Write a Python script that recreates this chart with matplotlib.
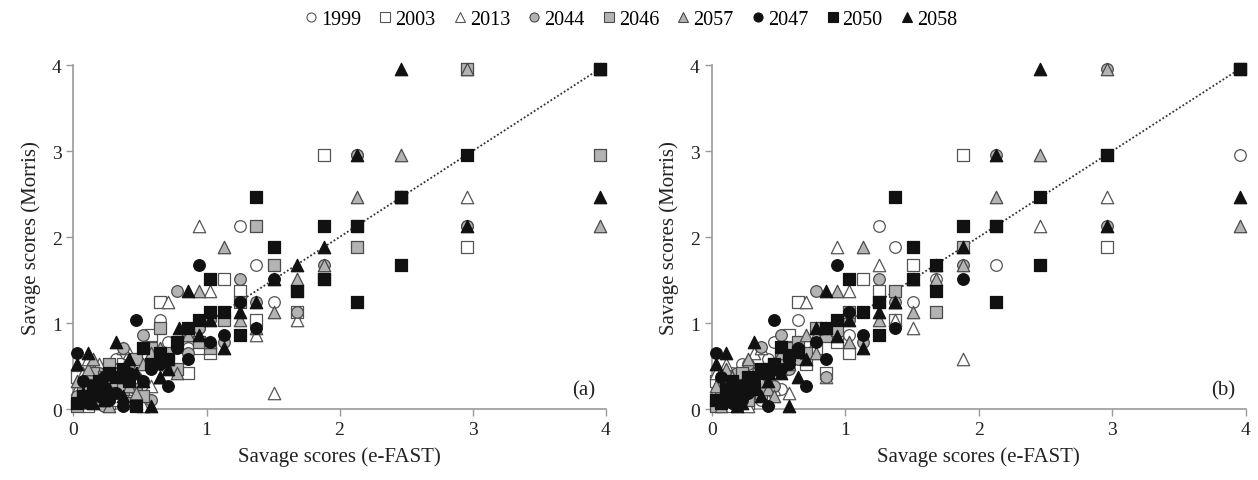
import matplotlib
matplotlib.use('Agg')
import matplotlib.pyplot as plt
from matplotlib.lines import Line2D

plt.rcParams['font.family'] = ['Liberation Serif', 'DejaVu Serif']

# series names (legend order = drawing order)
series = ['1999', '2003', '2013', '2044', '2046', '2057', '2047', '2050', '2058']

# ---- panel (a) ----
a_1999_x = [3.96, 1.25, 1.37, 1.51, 0.65, 0.71, 0.32, 1.03, 0.78, 0.03, 0.07, 0.11, 0.15, 0.19, 0.23, 0.27, 0.37, 0.42, 0.47, 0.52, 0.58, 0.94, 0.86, 1.13, 2.13, 1.88, 2.46, 2.96, 1.68]
a_1999_y = [3.96, 2.13, 1.68, 1.25, 1.03, 0.78, 0.58, 0.65, 0.42, 0.11, 0.23, 0.15, 0.32, 0.07, 0.47, 0.27, 0.19, 0.52, 0.37, 0.03, 0.86, 0.94, 0.71, 1.13, 2.96, 1.51, 2.46, 2.13, 1.37]
a_2003_x = [1.88, 2.96, 1.13, 1.25, 0.65, 1.37, 0.58, 1.03, 0.03, 0.27, 0.07, 0.11, 0.19, 0.23, 0.32, 0.42, 0.47, 0.52, 0.71, 0.78, 0.86, 0.94, 3.96, 2.46, 2.13, 1.68, 0.15, 0.37]
a_2003_y = [2.96, 1.88, 1.51, 1.37, 1.25, 1.03, 0.86, 0.65, 0.37, 0.07, 0.27, 0.03, 0.47, 0.19, 0.11, 0.23, 0.32, 0.15, 0.52, 0.58, 0.42, 0.71, 3.96, 2.46, 2.13, 1.13, 0.23, 0.52]
a_2013_x = [0.94, 2.96, 1.03, 0.71, 1.68, 1.37, 1.51, 0.42, 0.19, 0.52, 0.03, 0.07, 0.11, 0.15, 0.23, 0.27, 0.32, 0.37, 0.47, 0.58, 0.65, 0.78, 0.86, 3.96, 2.46]
a_2013_y = [2.13, 2.46, 1.37, 1.25, 1.03, 0.86, 0.19, 0.65, 0.52, 0.03, 0.23, 0.42, 0.58, 0.11, 0.32, 0.15, 0.47, 0.71, 0.07, 0.27, 0.37, 0.78, 0.94, 3.96, 2.46]
a_2044_x = [2.13, 2.96, 1.88, 1.25, 0.78, 1.37, 1.68, 0.52, 0.37, 1.13, 0.03, 0.07, 0.11, 0.15, 0.19, 0.23, 0.27, 0.32, 0.42, 0.47, 0.58, 0.65, 0.71, 0.86, 0.94, 1.03, 3.96]
a_2044_y = [2.96, 2.13, 1.68, 1.51, 1.37, 1.25, 1.13, 0.86, 0.71, 0.78, 0.15, 0.07, 0.32, 0.19, 0.42, 0.03, 0.37, 0.27, 0.52, 0.23, 0.11, 0.58, 0.47, 0.65, 0.94, 1.03, 3.96]
a_2046_x = [2.96, 3.96, 1.37, 2.13, 1.51, 1.13, 0.65, 0.58, 0.52, 0.47, 0.03, 0.07, 0.11, 0.15, 0.19, 0.23, 0.27, 0.32, 0.37, 0.42, 0.71, 0.78, 0.86, 0.94, 1.03, 1.25, 1.68, 1.88, 2.46]
a_2046_y = [3.96, 2.96, 2.13, 1.88, 1.68, 1.03, 0.94, 0.71, 0.15, 0.58, 0.03, 0.19, 0.27, 0.42, 0.11, 0.37, 0.52, 0.32, 0.23, 0.07, 0.65, 0.47, 0.86, 0.78, 0.71, 1.25, 1.37, 1.51, 2.46]
a_2057_x = [2.96, 2.46, 2.13, 3.96, 1.13, 1.88, 1.68, 0.94, 1.51, 1.03, 0.78, 0.11, 0.03, 0.07, 0.15, 0.19, 0.23, 0.27, 0.32, 0.37, 0.42, 0.47, 0.52, 0.58, 0.65, 0.71, 0.86, 1.25, 1.37]
a_2057_y = [3.96, 2.96, 2.46, 2.13, 1.88, 1.68, 1.51, 1.37, 1.13, 0.78, 0.42, 0.47, 0.32, 0.11, 0.58, 0.23, 0.15, 0.03, 0.42, 0.37, 0.27, 0.19, 0.52, 0.65, 0.71, 0.58, 0.86, 1.03, 0.94]
a_2047_x = [2.46, 2.13, 1.88, 0.94, 1.25, 0.47, 1.37, 1.13, 0.71, 0.03, 0.07, 0.11, 0.15, 0.19, 0.23, 0.27, 0.32, 0.37, 0.42, 0.52, 0.58, 0.65, 0.78, 0.86, 1.03, 1.51, 2.96, 3.96, 1.68]
a_2047_y = [2.46, 2.13, 1.51, 1.68, 1.25, 1.03, 0.94, 0.86, 0.27, 0.65, 0.33, 0.07, 0.23, 0.15, 0.37, 0.11, 0.19, 0.03, 0.42, 0.32, 0.47, 0.52, 0.71, 0.58, 0.78, 1.51, 2.96, 3.96, 1.37]
a_2050_x = [3.96, 2.96, 2.46, 1.37, 1.88, 2.13, 1.51, 2.46, 1.88, 1.03, 1.68, 2.13, 1.13, 0.94, 1.25, 0.86, 0.52, 0.58, 0.65, 0.03, 0.07, 0.11, 0.15, 0.19, 0.23, 0.27, 0.32, 0.37, 0.42, 0.47, 0.71, 0.78, 1.03]
a_2050_y = [3.96, 2.96, 2.46, 2.46, 2.13, 2.13, 1.88, 1.68, 1.51, 1.51, 1.37, 1.25, 1.13, 1.03, 0.86, 0.94, 0.71, 0.52, 0.65, 0.07, 0.15, 0.11, 0.27, 0.32, 0.23, 0.42, 0.37, 0.47, 0.32, 0.03, 0.58, 0.78, 1.13]
a_2058_x = [2.46, 3.96, 2.13, 2.96, 1.88, 1.68, 1.51, 0.86, 1.37, 1.25, 1.03, 1.13, 0.79, 0.32, 0.11, 0.03, 0.58, 0.65, 0.07, 0.15, 0.19, 0.23, 0.27, 0.37, 0.42, 0.47, 0.52, 0.71, 0.94]
a_2058_y = [3.96, 2.46, 2.96, 2.13, 1.88, 1.68, 1.51, 1.37, 1.25, 1.13, 1.03, 0.71, 0.94, 0.78, 0.65, 0.52, 0.03, 0.37, 0.19, 0.07, 0.27, 0.11, 0.23, 0.15, 0.58, 0.42, 0.32, 0.47, 0.86]

# ---- panel (b) ----
b_1999_x = [3.96, 1.25, 1.37, 2.13, 1.51, 0.65, 0.71, 0.47, 0.86, 0.03, 0.07, 0.11, 0.15, 0.19, 0.23, 0.27, 0.32, 0.37, 0.42, 0.52, 0.58, 0.78, 0.94, 1.03, 1.13, 1.68, 2.46]
b_1999_y = [2.96, 2.13, 1.88, 1.68, 1.25, 1.03, 0.78, 0.78, 0.37, 0.15, 0.27, 0.07, 0.42, 0.19, 0.52, 0.32, 0.47, 0.11, 0.58, 0.23, 0.65, 0.71, 0.94, 0.86, 1.13, 1.51, 2.46]
b_2003_x = [1.88, 2.96, 1.51, 1.13, 1.25, 0.65, 1.37, 0.58, 0.94, 1.03, 0.03, 0.07, 0.11, 0.15, 0.19, 0.23, 0.27, 0.32, 0.37, 0.42, 0.47, 0.52, 0.71, 0.78, 0.86, 3.96]
b_2003_y = [2.96, 1.88, 1.68, 1.51, 1.37, 1.25, 1.03, 0.86, 0.78, 0.65, 0.32, 0.11, 0.23, 0.03, 0.37, 0.15, 0.07, 0.27, 0.42, 0.19, 0.47, 0.58, 0.52, 0.71, 0.42, 3.96]
b_2013_x = [2.96, 2.46, 0.94, 1.25, 1.03, 0.71, 1.37, 1.51, 1.88, 0.58, 0.86, 0.03, 0.07, 0.11, 0.15, 0.19, 0.23, 0.27, 0.32, 0.37, 0.42, 0.47, 0.52, 0.65, 0.78]
b_2013_y = [2.46, 2.13, 1.88, 1.68, 1.37, 1.25, 1.03, 0.94, 0.58, 0.19, 0.37, 0.42, 0.19, 0.52, 0.27, 0.07, 0.32, 0.03, 0.65, 0.71, 0.11, 0.23, 0.47, 0.78, 0.86]
b_2044_x = [2.96, 2.13, 2.96, 1.88, 1.25, 0.78, 1.37, 1.68, 0.52, 0.37, 1.13, 0.86, 0.03, 0.07, 0.11, 0.15, 0.19, 0.23, 0.27, 0.32, 0.42, 0.47, 0.58, 0.65, 0.71, 0.94, 1.03]
b_2044_y = [3.96, 2.96, 2.13, 1.68, 1.51, 1.37, 1.25, 1.13, 0.86, 0.72, 0.78, 0.37, 0.07, 0.32, 0.19, 0.11, 0.42, 0.23, 0.52, 0.15, 0.37, 0.27, 0.47, 0.58, 0.65, 0.94, 1.03]
b_2046_x = [3.96, 1.88, 1.37, 0.86, 0.71, 0.94, 1.68, 0.03, 0.07, 0.11, 0.15, 0.19, 0.23, 0.27, 0.32, 0.37, 0.42, 0.47, 0.52, 0.58, 0.65, 0.78, 1.03, 1.25, 2.13, 2.96]
b_2046_y = [3.96, 1.88, 1.37, 0.85, 0.65, 0.92, 1.13, 0.03, 0.15, 0.37, 0.23, 0.27, 0.42, 0.11, 0.32, 0.19, 0.47, 0.52, 0.58, 0.71, 0.78, 0.94, 1.13, 1.25, 2.13, 2.96]
b_2057_x = [2.96, 2.46, 2.13, 3.96, 1.13, 1.88, 1.68, 0.94, 1.51, 1.03, 0.11, 0.03, 0.07, 0.15, 0.19, 0.23, 0.27, 0.32, 0.37, 0.42, 0.47, 0.52, 0.58, 0.65, 0.71, 0.78, 0.86, 1.25, 1.37]
b_2057_y = [3.96, 2.96, 2.46, 2.13, 1.88, 1.68, 1.51, 1.37, 1.13, 0.78, 0.47, 0.27, 0.03, 0.37, 0.11, 0.19, 0.58, 0.42, 0.32, 0.23, 0.15, 0.65, 0.52, 0.71, 0.86, 0.65, 0.94, 1.03, 1.25]
b_2047_x = [2.13, 2.46, 0.94, 1.88, 1.25, 1.03, 0.47, 1.37, 1.13, 0.86, 0.71, 0.03, 0.42, 0.07, 0.11, 0.15, 0.19, 0.23, 0.27, 0.32, 0.37, 0.52, 0.58, 0.65, 0.78, 3.96, 2.96]
b_2047_y = [2.13, 2.46, 1.68, 1.51, 1.25, 1.13, 1.03, 0.94, 0.86, 0.58, 0.27, 0.65, 0.03, 0.37, 0.15, 0.07, 0.23, 0.11, 0.19, 0.32, 0.42, 0.47, 0.52, 0.71, 0.78, 3.96, 2.96]
b_2050_x = [3.96, 2.96, 2.46, 1.37, 1.88, 2.13, 1.51, 2.46, 1.68, 1.03, 1.51, 1.68, 1.25, 2.13, 1.13, 0.94, 0.86, 1.25, 0.52, 0.58, 0.65, 0.03, 0.07, 0.11, 0.15, 0.19, 0.23, 0.27, 0.32, 0.37, 0.42, 0.47]
b_2050_y = [3.96, 2.96, 2.46, 2.46, 2.13, 2.13, 1.88, 1.68, 1.68, 1.51, 1.51, 1.37, 1.25, 1.25, 1.13, 1.03, 0.94, 0.86, 0.72, 0.63, 0.66, 0.11, 0.07, 0.23, 0.32, 0.15, 0.27, 0.37, 0.23, 0.47, 0.42, 0.52]
b_2058_x = [2.46, 3.96, 2.13, 2.96, 1.88, 1.68, 1.51, 0.86, 1.37, 1.25, 1.03, 0.94, 0.78, 1.13, 0.32, 0.11, 0.03, 0.58, 0.65, 0.07, 0.15, 0.19, 0.23, 0.27, 0.37, 0.42, 0.47, 0.52, 0.71]
b_2058_y = [3.96, 2.46, 2.96, 2.13, 1.88, 1.68, 1.51, 1.37, 1.25, 1.13, 1.03, 0.85, 0.94, 0.71, 0.78, 0.65, 0.52, 0.03, 0.37, 0.11, 0.19, 0.03, 0.07, 0.27, 0.15, 0.32, 0.47, 0.42, 0.58]

panel_a = [(a_1999_x, a_1999_y), (a_2003_x, a_2003_y), (a_2013_x, a_2013_y),
           (a_2044_x, a_2044_y), (a_2046_x, a_2046_y), (a_2057_x, a_2057_y),
           (a_2047_x, a_2047_y), (a_2050_x, a_2050_y), (a_2058_x, a_2058_y)]
panel_b = [(b_1999_x, b_1999_y), (b_2003_x, b_2003_y), (b_2013_x, b_2013_y),
           (b_2044_x, b_2044_y), (b_2046_x, b_2046_y), (b_2057_x, b_2057_y),
           (b_2047_x, b_2047_y), (b_2050_x, b_2050_y), (b_2058_x, b_2058_y)]

# marker style for each series
markers = ['o', 's', '^', 'o', 's', '^', 'o', 's', '^']
faces = ['white'] * 3 + ['#b3b3b3'] * 3 + ['#111111'] * 3
edges = ['#555555'] * 3 + ['#4a4a4a'] * 3 + ['#111111'] * 3
sizes = [70, 66, 80, 70, 66, 80, 70, 66, 80]

fig = plt.figure(figsize=(12.58, 4.81), dpi=100)
ax_a = fig.add_axes([0.0584, 0.1476, 0.423, 0.715])
ax_b = fig.add_axes([0.5657, 0.1476, 0.4245, 0.715])

for ax, data, tag in [(ax_a, panel_a, '(a)'), (ax_b, panel_b, '(b)')]:
    # 1:1 line
    ax.plot([0, 3.96], [0, 3.96], linestyle=(0, (1, 1.2)), color='#333333', lw=1.3, zorder=1)
    for i, (xs, ys) in enumerate(data):
        ax.scatter(xs, ys, marker=markers[i], s=sizes[i], facecolor=faces[i],
                   edgecolor=edges[i], linewidths=0.9, zorder=2 + i, clip_on=False)
    ax.set_xlim(0, 4)
    ax.set_ylim(0, 4)
    ax.set_xticks([0, 1, 2, 3, 4])
    ax.set_yticks([0, 1, 2, 3, 4])
    for s in ['top', 'right']:
        ax.spines[s].set_visible(False)
    for s in ['left', 'bottom']:
        ax.spines[s].set_color('#999999')
        ax.spines[s].set_linewidth(1.2)
    ax.tick_params(colors='#999999', labelcolor='#222222', labelsize=14, length=5, width=1)
    ax.set_xlabel('Savage scores (e-FAST)', fontsize=15, color='#222222', labelpad=6)
    ax.set_ylabel('Savage scores (Morris)', fontsize=15, color='#222222', labelpad=8)
    ax.text(3.92, 0.22, tag, fontsize=15, ha='right', va='center', color='#222222')

handles = [Line2D([], [], linestyle='none', marker=markers[i], markersize=6.5,
                  markerfacecolor=faces[i], markeredgecolor=edges[i], markeredgewidth=0.8)
           for i in range(len(series))]
fig.legend(handles, series, loc='upper center', bbox_to_anchor=(0.5, 1.014), ncol=9,
           frameon=False, fontsize=14.5, handletextpad=0.0, columnspacing=0.7,
           handlelength=1.0)

fig.savefig('out.png', dpi=100)
